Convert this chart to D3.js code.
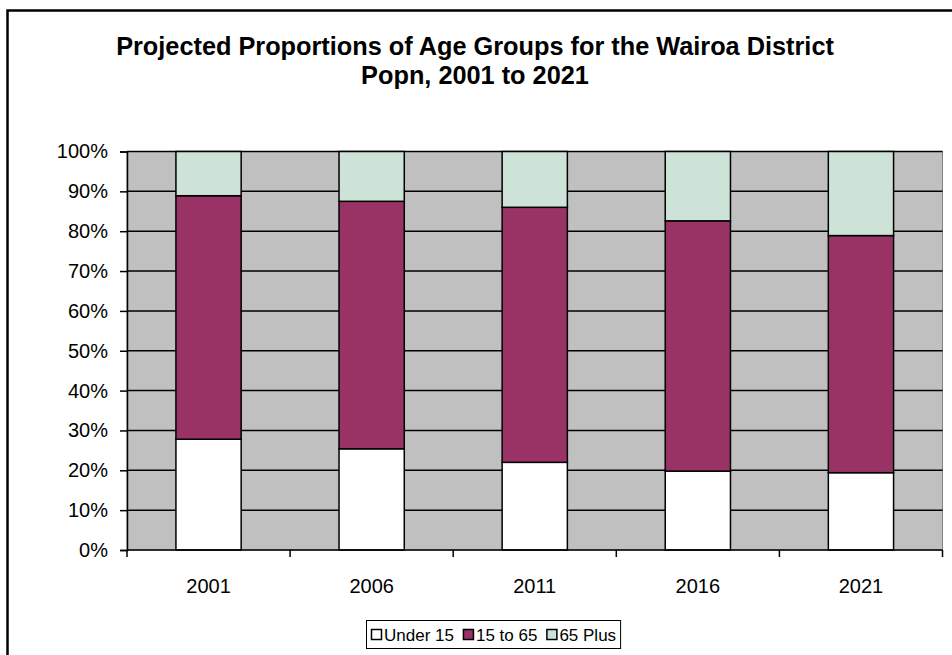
<!DOCTYPE html>
<html>
<head>
<meta charset="utf-8">
<script src="https://cdn.jsdelivr.net/npm/d3@7"></script>
<style>
  body { margin: 0; background: #fff; }
  svg { display: block; font-family: Arial, "Liberation Sans", sans-serif; }
</style>
</head>
<body>
<div id="chart"></div>
<script>
const years = ["2001", "2006", "2011", "2016", "2021"];
const under15 = [27.8, 25.4, 22.0, 19.8, 19.4];
const age15to65 = [61.1, 62.1, 64.0, 62.8, 59.5];
const plus65 = [11.1, 12.5, 14.0, 17.4, 21.1];
const seriesNames = ["Under 15", "15 to 65", "65 Plus"];
const seriesColors = ["#ffffff", "#993366", "#cde3d8"];
const yTicks = [0, 10, 20, 30, 40, 50, 60, 70, 80, 90, 100];

const width = 952, height = 655;
const plot = { left: 127, top: 151.5, right: 942.5, bottom: 550 };
const font = "Arial, 'Liberation Sans', sans-serif";

const svg = d3.select("#chart").append("svg")
  .attr("width", width)
  .attr("height", height);

// outer chart border (runs off right / bottom edge)
svg.append("rect")
  .attr("x", 7.5).attr("y", 10.5)
  .attr("width", 960).attr("height", 660)
  .attr("fill", "#fff")
  .attr("stroke", "#000")
  .attr("stroke-width", 2.5);

// title
const title = svg.append("text")
  .attr("text-anchor", "middle")
  .attr("font-weight", "bold")
  .attr("font-size", 25.3);
title.append("tspan").attr("x", 475).attr("y", 55).text("Projected Proportions of Age Groups for the Wairoa District");
title.append("tspan").attr("x", 475).attr("y", 84).text("Popn, 2001 to 2021");

const x = d3.scaleBand()
  .domain(years)
  .range([plot.left, plot.right])
  .paddingInner(0.6)
  .paddingOuter(0.3);

const y = d3.scaleLinear()
  .domain([0, 100])
  .range([plot.bottom, plot.top]);

// plot background
svg.append("rect")
  .attr("x", plot.left).attr("y", plot.top)
  .attr("width", plot.right - plot.left)
  .attr("height", plot.bottom - plot.top)
  .attr("fill", "#c0c0c0")
  .attr("stroke", "#808080")
  .attr("stroke-width", 1);

// gridlines
svg.append("g").selectAll("line")
  .data(yTicks.slice(1))
  .enter().append("line")
  .attr("x1", plot.left).attr("x2", plot.right)
  .attr("y1", d => y(d)).attr("y2", d => y(d))
  .attr("stroke", "#000")
  .attr("stroke-width", 1.5);

// stacked bars
const rows = years.map((yr, i) => ({ year: yr, a: under15[i], b: age15to65[i], c: plus65[i] }));
const stacked = d3.stack().keys(["a", "b", "c"])(rows);

svg.append("g").selectAll("g")
  .data(stacked)
  .enter().append("g")
  .attr("fill", (d, i) => seriesColors[i])
  .selectAll("rect")
  .data(d => d)
  .enter().append("rect")
  .attr("x", d => x(d.data.year))
  .attr("width", x.bandwidth())
  .attr("y", d => y(d[1]))
  .attr("height", d => y(d[0]) - y(d[1]))
  .attr("stroke", "#000")
  .attr("stroke-width", 1.5);

// y axis
const yAxis = d3.axisLeft(y)
  .tickValues(yTicks)
  .tickFormat(d => d + "%")
  .tickSize(7)
  .tickPadding(12);
const yg = svg.append("g")
  .attr("transform", `translate(${plot.left},0)`)
  .call(yAxis);
yg.select(".domain").attr("stroke", "#000").attr("stroke-width", 1.5);
yg.selectAll(".tick line").attr("stroke", "#000").attr("stroke-width", 1.5);
yg.selectAll("text").attr("font-size", 20).attr("fill", "#000")
  .attr("font-family", font);

// x axis
const xg = svg.append("g")
  .attr("transform", `translate(0,${plot.bottom})`);
xg.append("line")
  .attr("x1", plot.left).attr("x2", plot.right)
  .attr("stroke", "#000").attr("stroke-width", 1.5);
const bounds = d3.range(years.length + 1).map(i => plot.left + i * (plot.right - plot.left) / years.length);
xg.selectAll(".xtick")
  .data(bounds)
  .enter().append("line")
  .attr("x1", d => d).attr("x2", d => d)
  .attr("y1", 0).attr("y2", 7)
  .attr("stroke", "#000").attr("stroke-width", 1.5);
xg.selectAll(".xlabel")
  .data(years)
  .enter().append("text")
  .attr("x", d => x(d) + x.bandwidth() / 2)
  .attr("y", 43)
  .attr("text-anchor", "middle")
  .attr("font-size", 20)
  .text(d => d);

// legend: items laid out one after another, box sized to fit
const legend = svg.append("g").attr("transform", "translate(366,620)");
const legendBox = legend.append("rect")
  .attr("x", 0.5).attr("y", 0.5)
  .attr("height", 28)
  .attr("fill", "#fff")
  .attr("stroke", "#000")
  .attr("stroke-width", 1);
let cursor = 5;
seriesNames.forEach((name, i) => {
  legend.append("rect")
    .attr("x", cursor + 0.5).attr("y", 9.5)
    .attr("width", 10).attr("height", 10)
    .attr("fill", seriesColors[i])
    .attr("stroke", "#000")
    .attr("stroke-width", 1.5);
  const t = legend.append("text")
    .attr("x", cursor + 13).attr("y", 21)
    .attr("font-size", 17)
    .text(name);
  cursor += 13 + t.node().getComputedTextLength() + 9;
});
legendBox.attr("width", cursor - 5);
</script>
</body>
</html>
